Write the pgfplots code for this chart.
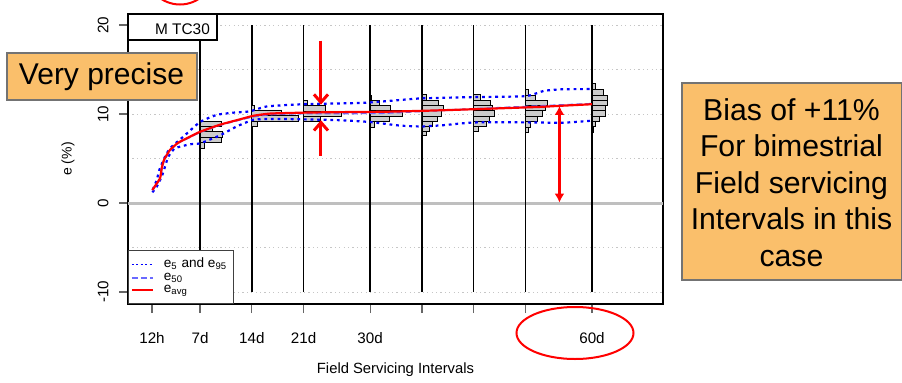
\documentclass[border=0pt]{standalone}
\usepackage{fontspec}
\setmainfont{Liberation Sans}
\usepackage{pgfplots}
\pgfplotsset{compat=1.18}
\usetikzlibrary{arrows.meta}
\definecolor{boxorange}{RGB}{250,191,107}
\definecolor{medblue}{RGB}{105,105,255}
\begin{document}
\begin{tikzpicture}
\useasboundingbox (0,0) rectangle (451pt,191pt);
\begin{axis}[
  at={(64pt,39pt)}, anchor=south west,
  width=267.5pt, height=145pt, scale only axis,
  xmin=-2.745, xmax=69.6, ymin=-11.348, ymax=21.236,
  axis line style={line width=1pt},
  xtick={0.5,7,14,21,30,37,44,51,60},
  xticklabels={12h,7d,14d,21d,30d,,,,60d},
  ytick={-10,0,10,20},
  minor ytick={-5,5,15},
  ymajorgrids, yminorgrids,
  major grid style={gray!45, line width=0.5pt, dash pattern=on 0.6pt off 1.6pt},
  minor grid style={gray!45, line width=0.5pt, dash pattern=on 0.6pt off 1.6pt},
  tick align=outside, xtick pos=bottom, ytick pos=left,
  major tick length=4.5pt, minor tick length=0pt,
  tick style={black!60, line width=0.6pt},
  ticklabel style={font=\fontsize{7.6}{9}\selectfont},
  /pgf/number format/assume math mode=true,
  yticklabel style={rotate=90, anchor=south, inner ysep=5pt},
  xticklabel style={yshift=-6pt},
  xlabel={Field Servicing Intervals},
  xlabel style={at={(axis description cs:0.5,-0.2276)}, anchor=center, font=\fontsize{7.4}{9}\selectfont},
  ylabel={e (\%)},
  ylabel style={at={(axis description cs:-0.112,0.5)}, anchor=center, font=\fontsize{7}{9}\selectfont},
  unbounded coords=jump,
  legend style={at={(0,0)}, anchor=south west, draw=black!75, line width=0.5pt, fill=white,
    font=\fontsize{6.8}{7}\selectfont, inner xsep=1.2pt, inner ysep=2pt, row sep=-3pt,
    /tikz/every odd column/.append style={column sep=3pt}},
  legend cell align=left,
  legend image code/.code={\draw[#1] (3.5pt,0pt) -- (14pt,0pt);},
  hist/.style={fill=gray!40, draw=black, line width=0.4pt, forget plot},
  edot/.style={blue, line width=1.1pt, dash pattern=on 1.4pt off 1.9pt},
]
% zero line
\addplot[gray!50, line width=1.5pt, forget plot] coordinates {(-2.745,0) (69.6,0)};
% vertical baselines
\addplot[black, line width=0.75pt, forget plot] coordinates {
 (7,-10)(7,20) (nan,nan) (14,-10)(14,20) (nan,nan) (21,-10)(21,20) (nan,nan)
 (30,-10)(30,20) (nan,nan) (37,-10)(37,20) (nan,nan) (44,-10)(44,20) (nan,nan)
 (51,-10)(51,20) (nan,nan) (60,-10)(60,20)};
% histograms
\addplot[hist] coordinates {
 (7,6.15)(7.54,6.15)(7.54,6.78)(7,6.78)(7,6.15) (nan,nan)
 (7,6.78)(9.84,6.78)(9.84,7.38)(7,7.38)(7,6.78) (nan,nan)
 (7,7.38)(9.97,7.38)(9.97,8.01)(7,8.01)(7,7.38) (nan,nan)
 (7,8.01)(8.62,8.01)(8.62,8.65)(7,8.65)(7,8.01) (nan,nan)
 (7,8.65)(9.84,8.65)(9.84,9.21)(7,9.21)(7,8.65)};
\addplot[hist] coordinates {
 (14,8.6)(14.77,8.6)(14.77,9.2)(14,9.2)(14,8.6) (nan,nan)
 (14,9.2)(20.3,9.2)(20.3,9.8)(14,9.8)(14,9.2) (nan,nan)
 (14,9.8)(18.06,9.8)(18.06,10.45)(14,10.45)(14,9.8) (nan,nan)
 (14,10.45)(14.41,10.45)(14.41,10.95)(14,10.95)(14,10.45)};
\addplot[hist] coordinates {
 (21,9.13)(23.26,9.13)(23.26,9.7)(21,9.7)(21,9.13) (nan,nan)
 (21,9.7)(26.14,9.7)(26.14,10.34)(21,10.34)(21,9.7) (nan,nan)
 (21,10.34)(23.93,10.34)(23.93,11.0)(21,11.0)(21,10.34) (nan,nan)
 (21,11.0)(21.5,11.0)(21.5,11.57)(21,11.57)(21,11.0)};
\addplot[hist] coordinates {
 (30,8.5)(30.64,8.5)(30.64,9.13)(30,9.13)(30,8.5) (nan,nan)
 (30,9.13)(32.57,9.13)(32.57,9.78)(30,9.78)(30,9.13) (nan,nan)
 (30,9.78)(34.33,9.78)(34.33,10.37)(30,10.37)(30,9.78) (nan,nan)
 (30,10.37)(32.8,10.37)(32.8,11.0)(30,11.0)(30,10.37) (nan,nan)
 (30,11.0)(31.22,11.0)(31.22,11.57)(30,11.57)(30,11.0) (nan,nan)
 (30,11.57)(30.18,11.57)(30.18,12.13)(30,12.13)(30,11.57)};
\addplot[hist] coordinates {
 (37,7.64)(37.57,7.64)(37.57,8.09)(37,8.09)(37,7.64) (nan,nan)
 (37,8.09)(37.97,8.09)(37.97,8.6)(37,8.6)(37,8.09) (nan,nan)
 (37,8.6)(38.42,8.6)(38.42,9.16)(37,9.16)(37,8.6) (nan,nan)
 (37,9.16)(39.03,9.16)(39.03,9.78)(37,9.78)(37,9.16) (nan,nan)
 (37,9.78)(39.57,9.78)(39.57,10.45)(37,10.45)(37,9.78) (nan,nan)
 (37,10.45)(39.84,10.45)(39.84,11.0)(37,11.0)(37,10.45) (nan,nan)
 (37,11.0)(39.26,11.0)(39.26,11.57)(37,11.57)(37,11.0) (nan,nan)
 (37,11.57)(37.58,11.57)(37.58,12.2)(37,12.2)(37,11.57)};
\addplot[hist] coordinates {
 (44,8.1)(44.68,8.1)(44.68,8.6)(44,8.6)(44,8.1) (nan,nan)
 (44,8.6)(45.69,8.6)(45.69,9.16)(44,9.16)(44,8.6) (nan,nan)
 (44,9.16)(46.16,9.16)(46.16,9.78)(44,9.78)(44,9.16) (nan,nan)
 (44,9.78)(46.84,9.78)(46.84,10.45)(44,10.45)(44,9.78) (nan,nan)
 (44,10.45)(46.57,10.45)(46.57,11.0)(44,11.0)(44,10.45) (nan,nan)
 (44,11.0)(46.23,11.0)(46.23,11.57)(44,11.57)(44,11.0) (nan,nan)
 (44,11.57)(44.88,11.57)(44.88,12.2)(44,12.2)(44,11.57)};
\addplot[hist] coordinates {
 (51,7.95)(51.45,7.95)(51.45,8.5)(51,8.5)(51,7.95) (nan,nan)
 (51,8.5)(51.68,8.5)(51.68,9.13)(51,9.13)(51,8.5) (nan,nan)
 (51,9.13)(52.58,9.13)(52.58,9.78)(51,9.78)(51,9.13) (nan,nan)
 (51,9.78)(53.26,9.78)(53.26,10.37)(51,10.37)(51,9.78) (nan,nan)
 (51,10.37)(53.7,10.37)(53.7,11.0)(51,11.0)(51,10.37) (nan,nan)
 (51,11.0)(53.93,11.0)(53.93,11.57)(51,11.57)(51,11.0) (nan,nan)
 (51,11.57)(52.35,11.57)(52.35,12.13)(51,12.13)(51,11.57) (nan,nan)
 (51,12.13)(51.45,12.13)(51.45,12.77)(51,12.77)(51,12.13)};
\addplot[hist] coordinates {
 (60,7.98)(60.23,7.98)(60.23,8.57)(60,8.57)(60,7.98) (nan,nan)
 (60,8.57)(60.45,8.57)(60.45,9.13)(60,9.13)(60,8.57) (nan,nan)
 (60,9.13)(60.99,9.13)(60.99,9.78)(60,9.78)(60,9.13) (nan,nan)
 (60,9.78)(61.8,9.78)(61.8,10.37)(60,10.37)(60,9.78) (nan,nan)
 (60,10.37)(61.8,10.37)(61.8,11.0)(60,11.0)(60,10.37) (nan,nan)
 (60,11.0)(62.12,11.0)(62.12,11.57)(60,11.57)(60,11.0) (nan,nan)
 (60,11.57)(62.12,11.57)(62.12,12.13)(60,12.13)(60,11.57) (nan,nan)
 (60,12.13)(61.58,12.13)(61.58,12.78)(60,12.78)(60,12.13) (nan,nan)
 (60,12.78)(60.45,12.78)(60.45,13.45)(60,13.45)(60,12.78)};
% e95
\addplot[edot, smooth, tension=0.3, forget plot] coordinates {
 (0.6,1.5)(1.14,2.58)(1.49,3.7)(1.95,4.64)(2.49,5.58)(3.16,6.33)(4.73,7.45)(6.99,9.1)
 (9.25,9.9)(11.5,10.15)(13.75,10.3)(16.0,10.85)(20.9,11.1)(29,11.25)(33,11.5)(36.8,11.75)
 (44,11.9)(51,12.0)(53.5,12.6)(56,12.78)(60,12.8)};
% e5
\addplot[edot, smooth, tension=0.3, forget plot] coordinates {
 (0.55,1.2)(1.14,1.83)(1.81,2.96)(2.26,4.08)(2.7,5.2)(3.61,6.15)(5.64,6.6)(6.99,6.7)
 (9.7,7.6)(11.95,8.6)(14.2,9.35)(16.5,9.45)(21,9.4)(26,9.3)(30,9.1)(34,8.7)(37,8.6)
 (40,8.75)(44,9.05)(51,9.06)(56,9.02)(60,9.25)};
% e50
\addplot[medblue, line width=0.9pt, dash pattern=on 3pt off 1.5pt, smooth, tension=0.3, forget plot] coordinates {
 (0.54,1.4)(1.58,2.7)(1.81,3.8)(2.12,4.7)(2.93,5.9)(4.06,6.75)(5.64,7.4)(6.99,7.95)
 (9.7,8.75)(12.4,9.35)(14.2,9.7)(16.5,9.95)(20.9,10.05)(24.6,10.05)(31.7,10.1)(36.8,10.3)
 (40.8,10.45)(46.2,10.65)(53.0,10.9)(55.7,11.0)(60,11.15)};
% eavg
\addplot[red, line width=1.1pt, smooth, tension=0.3, forget plot] coordinates {
 (0.54,1.46)(1.58,2.77)(1.81,3.9)(2.12,4.83)(2.93,5.96)(4.06,6.78)(5.64,7.45)(6.99,8.0)
 (9.7,8.8)(12.4,9.4)(14.2,9.8)(16.5,10.05)(20.9,10.15)(24.6,10.2)(31.7,10.25)(36.8,10.35)
 (40.8,10.45)(46.2,10.6)(53.0,10.8)(55.7,10.92)(60,11.1)};
% arrows
\addplot[red, line width=1.5pt, -{Straight Barb[length=4pt,width=7pt]}, forget plot] coordinates {(23.35,18.24) (23.35,11.05)};
\addplot[red, line width=1.5pt, -{Straight Barb[length=4pt,width=7pt]}, forget plot] coordinates {(23.35,5.3) (23.35,9.3)};
\addplot[red, line width=1.1pt, {Latex[length=4.5pt,width=5pt]}-{Latex[length=4.5pt,width=5pt]}, forget plot] coordinates {(55.6,0.05) (55.6,10.9)};
% legend
\addlegendimage{blue, line width=0.8pt, dash pattern=on 1pt off 1.2pt}
\addlegendentry{e\textsubscript{5} and e\textsubscript{95}}
\addlegendimage{medblue, line width=0.8pt, dash pattern=on 3pt off 1.5pt}
\addlegendentry{e\textsubscript{50}}
\addlegendimage{red, line width=1pt}
\addlegendentry{e\textsubscript{avg}}
\end{axis}
\begin{scope}[x=0.5pt,y=0.5pt]
\draw[fill=white, line width=0.6pt] (128,342) rectangle (217,368);
\node[font=\fontsize{7.7}{9}\selectfont, anchor=center] at (182.5,353) {M TC30};
\draw[fill=boxorange, draw=black!55, line width=0.6pt] (7,282) rectangle (197,329);
\node[font=\fontsize{15}{18}\selectfont, anchor=center] at (101.5,305.5) {Very precise};
\draw[fill=boxorange, draw=black!55, line width=0.6pt] (682,102) rectangle (901.5,299);
\node[font=\fontsize{15.1}{18.3}\selectfont, align=center, anchor=center] at (791.5,199.5)
  {Bias of +11\%\\For bimestrial\\Field servicing\\Intervals in this\\case};
\draw[red, line width=1pt] (575,49) ellipse [x radius=58.5, y radius=26];
\draw[red, line width=1pt] (180,411.8) circle [radius=34.3];
\end{scope}
\end{tikzpicture}
\end{document}
